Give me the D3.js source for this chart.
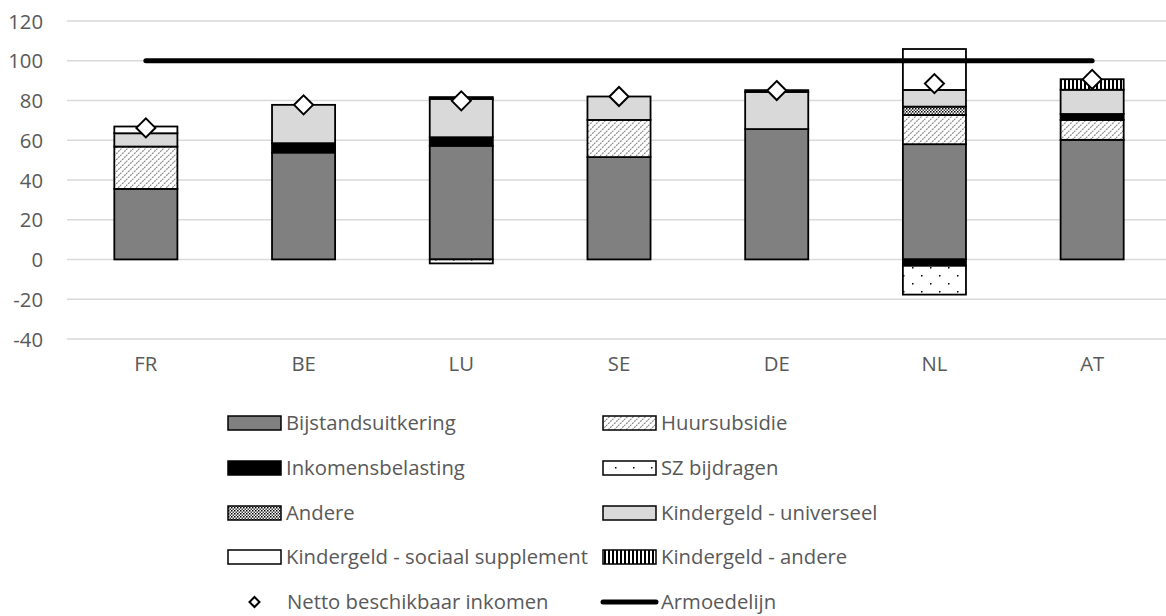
<!DOCTYPE html>
<html>
<head>
<meta charset="utf-8">
<script src="https://cdn.jsdelivr.net/npm/d3@7"></script>
<style>
html,body{margin:0;padding:0;background:#fff;}
svg{display:block;}
text{font-family:"Open Sans","Liberation Sans",sans-serif;fill:#595959;}
</style>
</head>
<body>
<svg id="chart" width="1166" height="616"></svg>
<script>
const categories = ["FR","BE","LU","SE","DE","NL","AT"];
const bijstand   = [35.5, 53.8, 57.2, 51.5, 65.6, 58.0, 60.2];
const huur       = [21.3, 0, 0, 18.7, 0, 14.7, 10.0];
const belasting  = [0, 4.7, 4.3, 0, 0, -3.2, 3.0];
const sz         = [0, 0, -2.0, 0, 0, -14.5, 0];
const andere     = [0, 0, 0, 0, 0, 4.2, 0];
const kgUniv     = [6.7, 19.3, 19.3, 11.8, 18.7, 8.4, 12.2];
const kgSoc      = [3.4, 0, 0, 0, 0, 20.6, 0];
const kgAndere   = [0, 0, 0.9, 0, 0.9, 0, 5.3];
const netto      = [66.2, 77.8, 79.8, 82.0, 85.0, 88.5, 90.6];
const armoede    = [100, 100, 100, 100, 100, 100, 100];
const yTicks     = [-40, -20, 0, 20, 40, 60, 80, 100, 120];

const seriesNames = ["Bijstandsuitkering","Huursubsidie","Inkomensbelasting","SZ bijdragen","Andere",
  "Kindergeld - universeel","Kindergeld - sociaal supplement","Kindergeld - andere"];
const seriesVals = [bijstand, huur, belasting, sz, andere, kgUniv, kgSoc, kgAndere];
const fills = ["#808080","url(#pHuur)","#000","url(#pSZ)","url(#pAndere)","#d9d9d9","#fff","url(#pKgA)"];

const svg = d3.select("#chart");
const defs = svg.append("defs");
const p1 = defs.append("pattern").attr("id","pHuur").attr("patternUnits","userSpaceOnUse").attr("width",6).attr("height",6);
p1.append("rect").attr("width",6).attr("height",6).attr("fill","#fff");
p1.append("path").attr("d","M0,6 L6,0 M-1.5,1.5 L1.5,-1.5 M4.5,7.5 L7.5,4.5").attr("stroke","#8a8a8a").attr("stroke-width",1.2).attr("stroke-dasharray","2,1");
const p2 = defs.append("pattern").attr("id","pSZ").attr("patternUnits","userSpaceOnUse").attr("width",18).attr("height",16);
p2.append("rect").attr("width",18).attr("height",16).attr("fill","#fff");
p2.append("rect").attr("x",3).attr("y",3).attr("width",1.5).attr("height",1.5).attr("fill","#000");
p2.append("rect").attr("x",12).attr("y",11).attr("width",1.5).attr("height",1.5).attr("fill","#000");
const p3 = defs.append("pattern").attr("id","pAndere").attr("patternUnits","userSpaceOnUse").attr("width",3).attr("height",3);
p3.append("rect").attr("width",3).attr("height",3).attr("fill","#fff");
p3.append("rect").attr("x",0).attr("y",0).attr("width",1.5).attr("height",1.5).attr("fill","#000");
p3.append("rect").attr("x",1.5).attr("y",1.5).attr("width",1.5).attr("height",1.5).attr("fill","#444");
const p4 = defs.append("pattern").attr("id","pKgA").attr("patternUnits","userSpaceOnUse").attr("width",4).attr("height",4);
p4.append("rect").attr("width",4).attr("height",4).attr("fill","#fff");
p4.append("rect").attr("x",0).attr("width",2).attr("height",4).attr("fill","#000");

const x = d3.scaleBand().domain(categories).range([67, 1171]).paddingInner(0.6).paddingOuter(0.3);
const y = d3.scaleLinear().domain([-40, 120]).range([338.9, 21]);

svg.append("g").selectAll("line").data(yTicks).join("line")
  .attr("x1",67).attr("x2",1166).attr("y1",d=>y(d)).attr("y2",d=>y(d))
  .attr("stroke","#d9d9d9").attr("stroke-width",1.5);

const yAxis = d3.axisLeft(y).tickValues(yTicks).tickSize(0).tickPadding(0).tickFormat(d=>String(d));
const gy = svg.append("g").attr("transform","translate(43,0)").call(yAxis);
gy.select(".domain").remove();
gy.selectAll("text").style("font-size","20.3px").style("font-family","'Open Sans',sans-serif").attr("fill","#595959").attr("dy","0.35em");

const xAxis = d3.axisBottom(x).tickSize(0).tickPadding(0);
const gx = svg.append("g").attr("transform","translate(0,357)").call(xAxis);
gx.select(".domain").remove();
gx.selectAll("text").style("font-size","20.3px").style("font-family","'Open Sans',sans-serif").attr("fill","#595959").attr("dy","0.71em");

const table = categories.map((c,i)=>{ const o={cat:c}; seriesNames.forEach((s,k)=>o[s]=seriesVals[k][i]); return o; });
const stack = d3.stack().keys(seriesNames).offset(d3.stackOffsetDiverging)(table);
stack.forEach((layer,k)=>{
  svg.append("g").selectAll("rect").data(layer.filter(d=>Math.abs(d[1]-d[0])>0)).join("rect")
    .attr("x",d=>x(d.data.cat)).attr("width",x.bandwidth())
    .attr("y",d=>y(Math.max(d[0],d[1]))).attr("height",d=>Math.abs(y(d[0])-y(d[1])))
    .attr("fill",fills[k]).attr("stroke","#000").attr("stroke-width",1.8);
});

const line = d3.line().x((d,i)=>x(categories[i])+x.bandwidth()/2).y(d=>y(d));
svg.append("path").datum(armoede).attr("d",line).attr("fill","none")
  .attr("stroke","#000").attr("stroke-width",5).attr("stroke-linecap","round");

const diamond = (cx,cy,r)=>`M${cx},${cy-r}L${cx+r},${cy}L${cx},${cy+r}L${cx-r},${cy}Z`;
svg.append("g").selectAll("path").data(netto).join("path")
  .attr("d",(d,i)=>diamond(x(categories[i])+x.bandwidth()/2, y(d), 9.5))
  .attr("fill","#fff").attr("stroke","#000").attr("stroke-width",2);

const legItems = [
  {name:"Bijstandsuitkering", k:0, col:0, row:0},
  {name:"Huursubsidie", k:1, col:1, row:0},
  {name:"Inkomensbelasting", k:2, col:0, row:1},
  {name:"SZ bijdragen", k:3, col:1, row:1},
  {name:"Andere", k:4, col:0, row:2},
  {name:"Kindergeld - universeel", k:5, col:1, row:2},
  {name:"Kindergeld - sociaal supplement", k:6, col:0, row:3},
  {name:"Kindergeld - andere", k:7, col:1, row:3}
];
const colX = [228, 603], rowY = [423, 468, 513, 557, 602];
const lg = svg.append("g");
legItems.forEach(it=>{
  const sx = colX[it.col], cy = rowY[it.row];
  lg.append("rect").attr("x",sx).attr("y",cy-7).attr("width",53).attr("height",14)
    .attr("fill",fills[it.k]).attr("stroke","#000").attr("stroke-width",1.5);
  lg.append("text").attr("x",sx+58).attr("y",cy).attr("dy","0.35em").style("font-size","20.3px").text(it.name);
});
lg.append("path").attr("d",diamond(254.5, rowY[4], 5)).attr("fill","#fff").attr("stroke","#000").attr("stroke-width",2);
lg.append("text").attr("x",287).attr("y",rowY[4]).attr("dy","0.35em").style("font-size","20.3px").text("Netto beschikbaar inkomen");
lg.append("line").attr("x1",603).attr("x2",656).attr("y1",rowY[4]).attr("y2",rowY[4])
  .attr("stroke","#000").attr("stroke-width",5).attr("stroke-linecap","round");
lg.append("text").attr("x",661).attr("y",rowY[4]).attr("dy","0.35em").style("font-size","20.3px").text("Armoedelijn");
</script>
</body>
</html>
